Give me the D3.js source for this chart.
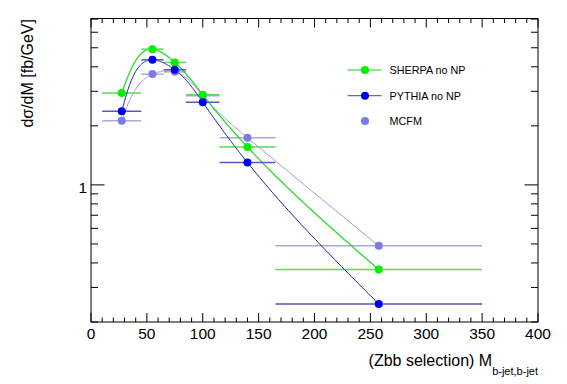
<!DOCTYPE html>
<html><head><meta charset="utf-8">
<script src="https://cdn.jsdelivr.net/npm/d3@7"></script>
<style>body{margin:0;background:#fff}svg{display:block;font-family:"Liberation Sans",Arial,sans-serif}</style>
</head><body>
<svg id="c" width="567" height="384"></svg>
<script>
const binLow  = [10, 45, 65, 85, 115, 165];
const binHigh = [45, 65, 85, 115, 165, 350];
const xCenters = [27.5, 55, 75, 100, 140, 257.5];
const sherpa = [2.94, 4.92, 4.21, 2.88, 1.56, 0.37];
const pythia = [2.37, 4.34, 3.86, 2.64, 1.30, 0.247];
const mcfm   = [2.12, 3.67, 3.77, 2.85, 1.74, 0.489];
const xTickLabels = [0, 50, 100, 150, 200, 250, 300, 350, 400];
const yTickLabels = [1];

const svg = d3.select("#c");
const L = 91, R = 538, T = 18.5, B = 322;
const x = d3.scaleLinear().domain([0, 400]).range([L, R]);
const y = d3.scaleLog().domain([0.2, 7.05]).range([B, T]);

// parametric (chord-length) natural cubic spline through screen points, like ROOT's smooth "C" option
function smooth(pts, per) {
  const n = pts.length, t = [0];
  for (let i = 1; i < n; i++) t.push(t[i-1] + Math.hypot(pts[i][0]-pts[i-1][0], pts[i][1]-pts[i-1][1]));
  function coeffs(v) {
    const h = d3.range(n-1).map(i => t[i+1]-t[i]);
    const a = [], b = [], c = [], d = [];
    for (let i = 1; i < n-1; i++) {
      a.push(h[i-1]); b.push(2*(h[i-1]+h[i])); c.push(h[i]);
      d.push(6*((v[i+1]-v[i])/h[i] - (v[i]-v[i-1])/h[i-1]));
    }
    const m = n-2;
    for (let i = 1; i < m; i++) { const w = a[i]/b[i-1]; b[i] -= w*c[i-1]; d[i] -= w*d[i-1]; }
    const M = new Array(n).fill(0);
    for (let i = m-1; i >= 0; i--) M[i+1] = (d[i] - (i < m-1 ? c[i]*M[i+2] : 0)) / b[i];
    return {h, M};
  }
  const X = pts.map(p => p[0]), Y = pts.map(p => p[1]);
  const cx = coeffs(X), cy = coeffs(Y);
  function ev(v, co, i, s) {
    const h = co.h[i], M = co.M, A = t[i+1]-s, Bq = s-t[i];
    return M[i]*A*A*A/(6*h) + M[i+1]*Bq*Bq*Bq/(6*h) + (v[i]/h - M[i]*h/6)*A + (v[i+1]/h - M[i+1]*h/6)*Bq;
  }
  const out = [];
  for (let i = 0; i < n-1; i++) {
    for (let k = 0; k < per; k++) {
      const s = t[i] + (t[i+1]-t[i])*k/per;
      out.push([ev(X, cx, i, s), ev(Y, cy, i, s)]);
    }
  }
  out.push(pts[n-1]);
  return out;
}

const series = [
  {name: "MCFM", vals: mcfm, dot: "#7b7be8", line: "#9a9ade", bar: "#aaaadd", lw: 1},
  {name: "SHERPA no NP", vals: sherpa, dot: "#00f000", line: "#2ed82e", bar: "#55dd55", lw: 1.3},
  {name: "PYTHIA no NP", vals: pythia, dot: "#0000f0", line: "#1c1ca8", bar: "#5858c0", lw: 1}
];

const g = svg.append("g");
series.forEach(s => {
  const pts = xCenters.map((c, i) => [x(c), y(s.vals[i])]);
  g.append("path").attr("d", d3.line()(smooth(pts, 40)))
    .attr("fill", "none").attr("stroke", s.line).attr("stroke-width", s.lw);
  s.vals.forEach((v, i) => {
    g.append("line").attr("x1", x(binLow[i])).attr("x2", x(binHigh[i]))
      .attr("y1", y(v)).attr("y2", y(v)).attr("stroke", s.bar).attr("stroke-width", 1.5);
  });
});
series.forEach(s => {
  s.vals.forEach((v, i) => {
    g.append("circle").attr("cx", x(xCenters[i])).attr("cy", y(v)).attr("r", 4).attr("fill", s.dot);
  });
});

// frame
svg.append("rect").attr("x", L).attr("y", T).attr("width", R - L).attr("height", B - T)
  .attr("fill", "none").attr("stroke", "#000").attr("stroke-width", 1);

// x ticks
const ax = svg.append("g").attr("stroke", "#000").attr("stroke-width", 1);
d3.range(0, 401, 10).forEach(v => {
  const major = v % 50 === 0;
  const len = major ? 9 : 4.5;
  ax.append("line").attr("x1", x(v)).attr("x2", x(v)).attr("y1", B).attr("y2", B - len);
  ax.append("line").attr("x1", x(v)).attr("x2", x(v)).attr("y1", T).attr("y2", T + len);
});
xTickLabels.forEach(v => {
  svg.append("text").attr("x", x(v)).attr("y", 339).attr("text-anchor", "middle")
    .attr("font-size", 15.5).text(v);
});
// y ticks
const minor = [0.2,0.3,0.4,0.5,0.6,0.7,0.8,0.9,2,3,4,5,6,7];
minor.forEach(v => {
  ax.append("line").attr("x1", L).attr("x2", L + 7).attr("y1", y(v)).attr("y2", y(v));
  ax.append("line").attr("x1", R).attr("x2", R - 7).attr("y1", y(v)).attr("y2", y(v));
});
yTickLabels.forEach(v => {
  ax.append("line").attr("x1", L).attr("x2", L + 13.5).attr("y1", y(v)).attr("y2", y(v));
  ax.append("line").attr("x1", R).attr("x2", R - 13.5).attr("y1", y(v)).attr("y2", y(v));
  svg.append("text").attr("x", 87).attr("y", y(v) + 8).attr("text-anchor", "end")
    .attr("font-size", 15.5).text(v);
});

// axis titles
svg.append("text").attr("transform", "translate(33,19) rotate(-90)").attr("text-anchor", "end")
  .attr("font-size", 16).text("dσ/dM [fb/GeV]");
const xt = svg.append("text").attr("x", 538).attr("y", 366).attr("text-anchor", "end").attr("font-size", 16);
xt.append("tspan").text("(Zbb selection) M");
xt.append("tspan").attr("font-size", 11).attr("dy", 9).text("b-jet,b-jet");

// legend
const leg = [
  {s: series[1], y: 70, line: "#66e066"},
  {s: series[2], y: 95.7, line: "#6666cc"},
  {s: series[0], y: 121, line: null}
];
leg.forEach(l => {
  if (l.line) svg.append("line").attr("x1", 347.5).attr("x2", 381.5).attr("y1", l.y).attr("y2", l.y)
    .attr("stroke", l.line).attr("stroke-width", 1.3);
  svg.append("circle").attr("cx", 365).attr("cy", l.y).attr("r", 4).attr("fill", l.s.dot);
  svg.append("text").attr("x", 389.5).attr("y", l.y + 4).attr("font-size", 10.8).text(l.s.name);
});
</script>
</body></html>
